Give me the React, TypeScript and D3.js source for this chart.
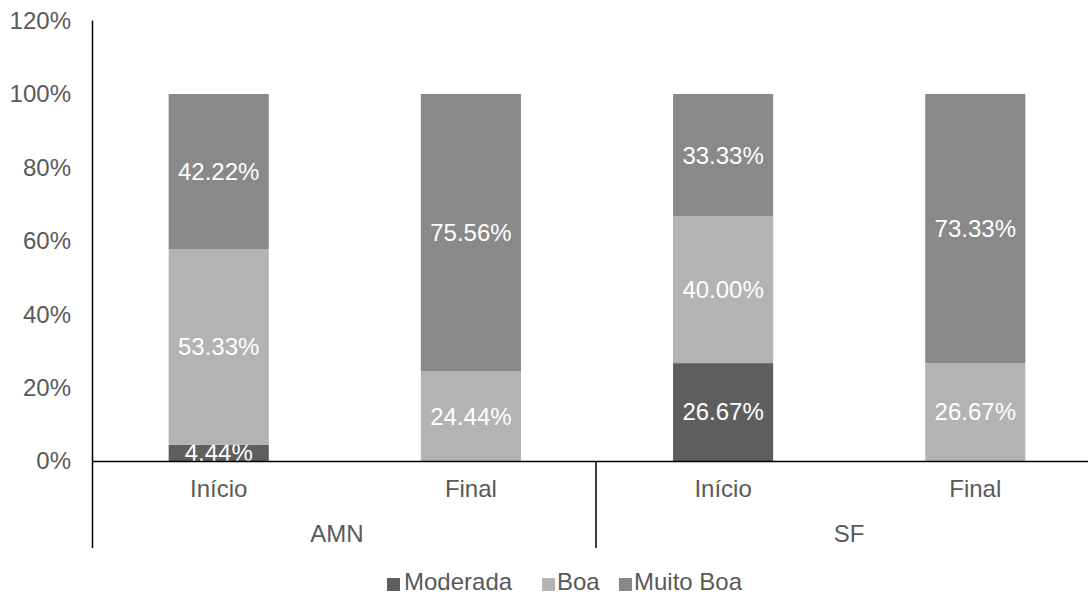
import React from "react";
import * as d3 from "d3";

const groups = ["AMN", "SF"];
const phases = ["Início", "Final"];
const categories = ["AMN|Início", "AMN|Final", "SF|Início", "SF|Final"];
const seriesNames = ["Moderada", "Boa", "Muito Boa"];
const moderada = [4.44, 0, 26.67, 0];
const boa = [53.33, 24.44, 40.0, 26.67];
const muitoBoa = [42.22, 75.56, 33.33, 73.33];
const yTicks = [0, 20, 40, 60, 80, 100, 120];
const colors = ["#5e5e5e", "#b3b3b3", "#898989"];

export default function App() {
  const W = 1088, H = 594;
  const x0 = 93, x1 = 1101;
  const y = d3.scaleLinear().domain([0, 120]).range([461, 20.6]);
  const x = d3.scaleBand().domain(categories).range([x0, x1]).paddingInner(0.603).paddingOuter(0.3);
  const rows = categories.map((c, i) => ({ cat: c, Moderada: moderada[i], Boa: boa[i], "Muito Boa": muitoBoa[i] }));
  const stack = d3.stack<any>().keys(seriesNames)(rows);
  const font = "'Liberation Sans', Arial, sans-serif";
  const groupLabelX = [337, 849];
  const legendItems = [
    { name: "Moderada", sx: 387, tx: 404 },
    { name: "Boa", sx: 542, tx: 557 },
    { name: "Muito Boa", sx: 619, tx: 634 },
  ];
  return (
    <svg width={W} height={H} style={{ position: "absolute", left: 0, top: 0, background: "#fff" }} fontFamily={font}>
      {yTicks.map((t) => (
        <text key={t} x={71} y={y(t)} dy="0.35em" textAnchor="end" fontSize={24} fill="#595959">{t}%</text>
      ))}
      {stack.map((s, si) =>
        s.map((d, i) => {
          const v = d[1] - d[0];
          if (v <= 0) return null;
          const bx = x(categories[i])!;
          return (
            <g key={si + "-" + i}>
              <rect x={bx} y={y(d[1])} width={x.bandwidth()} height={y(d[0]) - y(d[1])} fill={colors[si]} />
              <text x={bx + x.bandwidth() / 2} y={(y(d[0]) + y(d[1])) / 2} dy="0.35em" textAnchor="middle" fontSize={24} fill="#ffffff">
                {v.toFixed(2)}%
              </text>
            </g>
          );
        })
      )}
      <line x1={92.5} x2={92.5} y1={20.6} y2={548} stroke="#000" strokeWidth={1.5} />
      <line x1={92.5} x2={W} y1={461.5} y2={461.5} stroke="#000" strokeWidth={1.5} />
      <line x1={596} x2={596} y1={461.5} y2={548} stroke="#000" strokeWidth={1.5} />
      {categories.map((c, i) => (
        <text key={c} x={x(c)! + x.bandwidth() / 2} y={497} textAnchor="middle" fontSize={24} fill="#595959">
          {phases[i % 2]}
        </text>
      ))}
      {groups.map((g, i) => (
        <text key={g} x={groupLabelX[i]} y={542} textAnchor="middle" fontSize={24} fill="#595959">
          {g}
        </text>
      ))}
      {legendItems.map((l, i) => (
        <g key={l.name}>
          <rect x={l.sx} y={578} width={13} height={13} fill={colors[i]} />
          <text x={l.tx} y={590} fontSize={24} fill="#595959">{l.name}</text>
        </g>
      ))}
    </svg>
  );
}
